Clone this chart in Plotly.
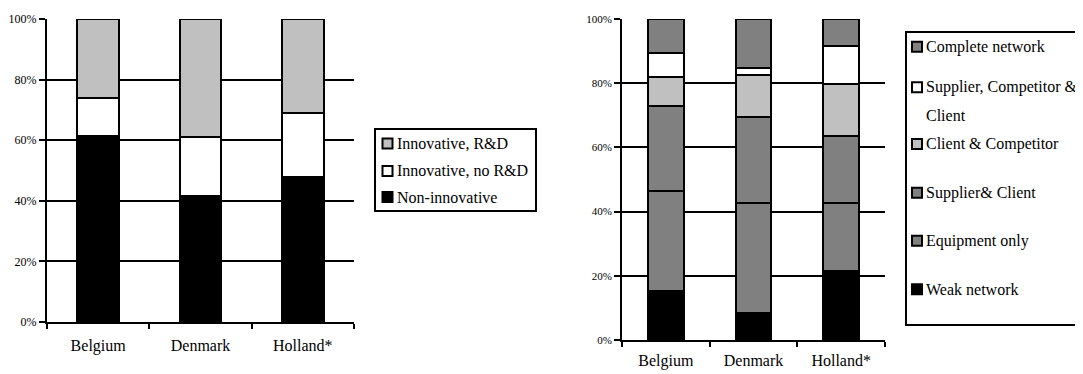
import plotly.graph_objects as go

# ---------------- data ----------------
countries = ["Belgium", "Denmark", "Holland*"]

# left chart (percent of firms)
left_names = ["Non-innovative", "Innovative, no R&D", "Innovative, R&D"]
non_innovative = [61.5, 41.5, 47.7]
innovative_no_rd = [12.5, 19.5, 21.2]
innovative_rd = [26.0, 39.0, 31.1]

# right chart (percent of firms)
right_names = ["Weak network", "Equipment only", "Supplier& Client",
               "Client & Competitor", "Supplier, Competitor & Client", "Complete network"]
weak_network = [15.4, 8.5, 21.5]
equipment_only = [31.1, 34.2, 21.2]
supplier_client = [26.4, 26.9, 20.9]
client_competitor = [8.9, 13.0, 16.1]
supplier_competitor_client = [7.5, 2.0, 12.0]
complete_network = [10.7, 15.4, 8.3]

y_ticks = [0, 20, 40, 60, 80, 100]
y_tick_labels = ["0%", "20%", "40%", "60%", "80%", "100%"]

# ---------------- styling ----------------
OFF = 8                     # page body margin of the html page
W, H = 1083 - OFF, 374 - OFF
FONT = "Times New Roman"
left_colors = ["#000000", "#ffffff", "#c0c0c0"]
right_colors = ["#000000", "#808080", "#808080", "#c0c0c0", "#ffffff", "#808080"]

def px_x(p):
    return (p - OFF) / W

def px_y(p):
    return 1 - (p - OFF) / H

fig = go.Figure()

left_series = [non_innovative, innovative_no_rd, innovative_rd]
for name, vals, col in zip(left_names, left_series, left_colors):
    fig.add_trace(go.Bar(x=countries, y=vals, name=name, marker_color=col,
                         marker_line=dict(color="black", width=2),
                         xaxis="x", yaxis="y", showlegend=False))

right_series = [weak_network, equipment_only, supplier_client, client_competitor,
                supplier_competitor_client, complete_network]
for name, vals, col in zip(right_names, right_series, right_colors):
    fig.add_trace(go.Bar(x=countries, y=vals, name=name, marker_color=col,
                         marker_line=dict(color="black", width=2),
                         xaxis="x2", yaxis="y2", showlegend=False))

xcommon = dict(type="category", showline=True, linecolor="black", linewidth=2,
               ticks="outside", tickson="boundaries", ticklen=5, tickwidth=2,
               tickcolor="black", showgrid=False, zeroline=False, automargin=False,
               tickfont=dict(family=FONT, size=16, color="black"))
ycommon = dict(range=[0, 100], tickmode="array", tickvals=y_ticks, ticktext=y_tick_labels,
               showline=True, linecolor="black", linewidth=2, ticks="outside", ticklen=6,
               tickwidth=2, tickcolor="black", showgrid=True, gridcolor="black",
               gridwidth=2, zeroline=False, automargin=False)

fig.update_layout(
    width=W, height=H,
    margin=dict(l=0, r=0, t=0, b=0, autoexpand=False),
    paper_bgcolor="white", plot_bgcolor="white",
    barmode="stack", bargap=0.59,
    font=dict(family=FONT, color="black"),
    xaxis=dict(domain=[px_x(47), px_x(354)], anchor="y", ticklabelstandoff=8, **xcommon),
    yaxis=dict(domain=[px_y(322), px_y(19)], anchor="x",
               tickfont=dict(family=FONT, size=12, color="black"), **ycommon),
    xaxis2=dict(domain=[px_x(622), px_x(885)], anchor="y2", ticklabelstandoff=5, **xcommon),
    yaxis2=dict(domain=[px_y(340), px_y(19)], anchor="x2",
                tickfont=dict(family=FONT, size=11, color="black"), **ycommon),
)

shapes = []
annotations = []

def legend_box(x0, y0, x1, y1):
    shapes.append(dict(type="rect", xref="paper", yref="paper",
                       x0=px_x(x0), x1=px_x(x1), y0=px_y(y1), y1=px_y(y0),
                       line=dict(color="black", width=2), fillcolor="white", layer="above"))

def legend_item(sx, cy, color, lines, line_gap=0):
    shapes.append(dict(type="rect", xref="paper", yref="paper",
                       x0=px_x(sx), x1=px_x(sx + 10), y0=px_y(cy + 5), y1=px_y(cy - 5),
                       line=dict(color="black", width=2), fillcolor=color, layer="above"))
    for i, t in enumerate(lines):
        annotations.append(dict(text=t, xref="paper", yref="paper",
                                x=px_x(sx + 12), y=px_y(cy + i * line_gap),
                                xanchor="left", yanchor="middle", showarrow=False,
                                font=dict(family=FONT, size=16, color="black")))

# left legend (top item = top of stack)
legend_box(375, 129, 536, 211)
left_legend_y = [197, 171, 143.5]
for name, col, cy in zip(left_names, left_colors, left_legend_y):
    legend_item(382.5, cy, col, [name])

# right legend
legend_box(906, 32, 1081, 325)
right_legend_y = [289.3, 240.7, 192.7, 144, 87.3, 46.7]
for name, col, cy in zip(right_names, right_colors, right_legend_y):
    if name == "Supplier, Competitor & Client":
        lines = ["Supplier, Competitor &", "Client"]
    else:
        lines = [name]
    legend_item(912, cy, col, lines, line_gap=27.7)

fig.update_layout(shapes=shapes, annotations=annotations)

fig.write_html("out.html")
